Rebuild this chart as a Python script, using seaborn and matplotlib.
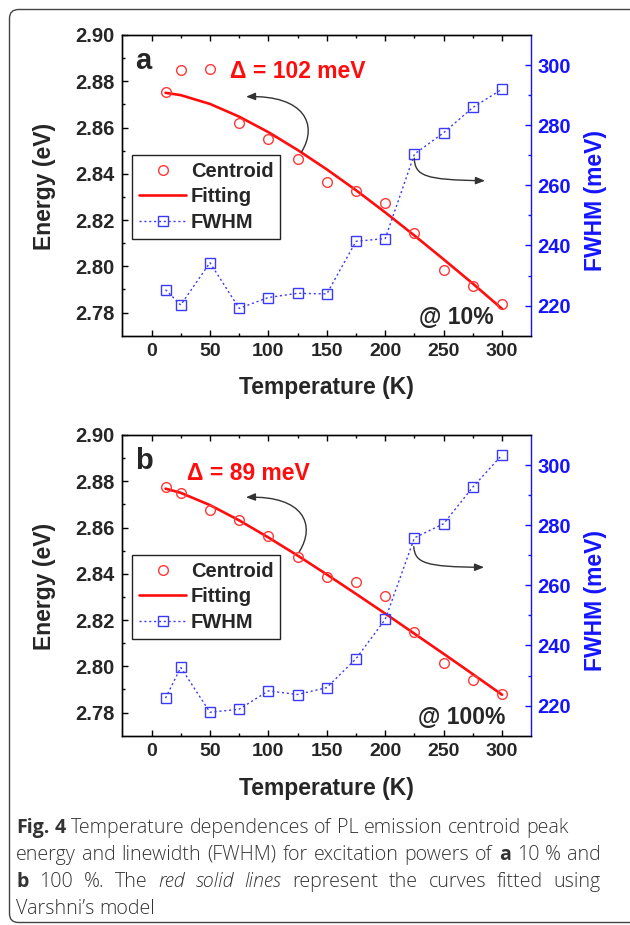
import numpy as np
import matplotlib
matplotlib.use("Agg")
import matplotlib.pyplot as plt
import seaborn as sns
from matplotlib.patches import FancyBboxPatch, FancyArrowPatch
from matplotlib.path import Path
from matplotlib.transforms import IdentityTransform

# ---------------------------------------------------------------- data
temperature = [12, 25, 50, 75, 100, 125, 150, 175, 200, 225, 250, 275, 300]

centroid_10 = [2.8754, 2.8848, 2.8851, 2.8620, 2.8551, 2.8462, 2.8365,
               2.8325, 2.8275, 2.8145, 2.7983, 2.7913, 2.7839]
fit_10 = [2.8750, 2.8740, 2.8702, 2.8647, 2.8580, 2.8503, 2.8419,
          2.8329, 2.8233, 2.8133, 2.8030, 2.7925, 2.7816]
fwhm_10 = [225.3, 220.2, 234.3, 219.1, 222.7, 224.1, 223.9,
           241.4, 242.3, 270.4, 277.5, 285.9, 292.0]

centroid_100 = [2.8775, 2.8749, 2.8675, 2.8632, 2.8564, 2.8471, 2.8385,
                2.8363, 2.8303, 2.8147, 2.8013, 2.7939, 2.7882]
fit_100 = [2.8768, 2.8750, 2.8697, 2.8631, 2.8557, 2.8479, 2.8397,
           2.8313, 2.8228, 2.8141, 2.8054, 2.7966, 2.7877]
fwhm_100 = [222.5, 232.7, 217.8, 218.8, 224.9, 223.7, 226.0,
            235.6, 248.7, 275.8, 280.5, 292.7, 303.4]

temp_ticks = [0, 50, 100, 150, 200, 250, 300]
temp_minor = [25, 75, 125, 175, 225, 275]
energy_ticks = [2.78, 2.80, 2.82, 2.84, 2.86, 2.88, 2.90]
energy_minor = [2.79, 2.81, 2.83, 2.85, 2.87, 2.89]
fwhm_ticks = [220, 240, 260, 280, 300]
fwhm_minor = [230, 250, 270, 290]

panel_letters = ["a", "b"]
delta_labels = ["\u0394 = 102 meV", "\u0394 = 89 meV"]
power_labels = ["@ 10%", "@ 100%"]
legend_labels = ["Centroid", "Fitting", "FWHM"]

# ---------------------------------------------------------------- style
sns.set_style("ticks")
plt.rcParams["font.family"] = ["Liberation Sans", "DejaVu Sans"]
plt.rcParams["font.weight"] = "bold"
plt.rcParams["axes.linewidth"] = 1.0

RED_LINE = "#ff0d0d"
RED_MARK = "#ff3838"
BLUE = "#1414ff"
BLUE_MARK = "#3a3aff"
ARROW = "#333333"

FIG_W, FIG_H = 630, 925
fig = plt.figure(figsize=(FIG_W / 100, FIG_H / 100), dpi=100)
fig.patch.set_facecolor("white")


def px_rect(left, top, right, bottom):
    return [left / FIG_W, 1 - bottom / FIG_H, (right - left) / FIG_W, (bottom - top) / FIG_H]


def fpt(x, y):
    return (x / FIG_W, 1 - y / FIG_H)


def curved_arrow(points):
    verts = [fpt(x, y) for x, y in points]
    codes = [Path.MOVETO, Path.CURVE4, Path.CURVE4, Path.CURVE4]
    arr = FancyArrowPatch(path=Path(verts, codes), transform=fig.transFigure,
                          arrowstyle="-|>,head_length=0.55,head_width=0.22",
                          mutation_scale=10, lw=1.0, color=ARROW)
    fig.add_artist(arr)


panels = [
    dict(centroid=centroid_10, fit=fit_10, fwhm=fwhm_10, dy=0,
         delta_x=229.8, delta_base=78.3, power_x=419.3, power_base=323.5,
         arrows=[[(301.7, 151.7), (318, 125), (305, 95), (246, 96.7)],
                 [(414.3, 158.3), (415, 176), (425, 180), (485, 180.7)]]),
    dict(centroid=centroid_100, fit=fit_100, fwhm=fwhm_100, dy=400,
         delta_x=186.8, delta_base=480.0, power_x=417.8, power_base=723.5,
         arrows=[[(299.3, 551.7), (316, 525), (304, 495.5), (245.9, 497.3)],
                 [(413.8, 546.7), (415, 563), (425, 567), (484.1, 567.3)]]),
]

for i, p in enumerate(panels):
    dy = p["dy"]
    ax = fig.add_axes(px_rect(122.3, 35 + dy, 531.3, 335.7 + dy))
    ax2 = ax.twinx()

    sns.lineplot(x=temperature, y=p["fit"], ax=ax, color=RED_LINE, lw=1.9)
    sns.lineplot(x=temperature, y=p["centroid"], ax=ax, linestyle="",
                 marker="o", ms=7, mfc="none", mec=RED_MARK, mew=1.0, color=RED_MARK)
    sns.lineplot(x=temperature, y=p["fwhm"], ax=ax2, color=BLUE_MARK, lw=1.0,
                 linestyle=(0, (1.5, 2.0)), marker="s", ms=7, mfc="none",
                 mec=BLUE_MARK, mew=1.0)
    fit_line, cen_line = ax.lines[0], ax.lines[1]
    fwhm_line = ax2.lines[0]

    ax.set_xlim(-25, 325)
    ax.set_ylim(2.77, 2.90)
    ax2.set_ylim(210, 310)

    ax.set_xticks(temp_ticks)
    ax.set_xticklabels([str(t) for t in temp_ticks])
    ax.set_xticks(temp_minor, minor=True)
    ax.set_yticks(energy_ticks)
    ax.set_yticklabels([f"{v:.2f}" for v in energy_ticks])
    ax.set_yticks(energy_minor, minor=True)
    ax2.set_yticks(fwhm_ticks)
    ax2.set_yticklabels([str(v) for v in fwhm_ticks])
    ax2.set_yticks(fwhm_minor, minor=True)

    ax.tick_params(axis="both", which="both", direction="in", top=True,
                   right=False, width=1.0, color="black")
    ax.tick_params(axis="both", which="major", length=4)
    ax.tick_params(axis="both", which="minor", length=2.5)
    ax.tick_params(axis="y", labelsize=14.5, pad=5.5)
    ax.tick_params(axis="x", labelsize=14, pad=5.5)
    ax2.tick_params(axis="y", which="both", direction="in", color=BLUE,
                    labelcolor=BLUE, labelsize=14.5, width=1.0, pad=4.5)
    ax2.tick_params(axis="y", which="major", length=4)
    ax2.tick_params(axis="y", which="minor", length=2.5)

    ax.spines["right"].set_visible(False)
    ax2.spines["right"].set_color(BLUE)
    for s in ("left", "top", "bottom"):
        ax2.spines[s].set_color("black")

    for a in (ax, ax2):
        a.set_xlabel("")
        a.set_ylabel("")
        if a.get_legend() is not None:
            a.get_legend().remove()

    leg = ax2.legend([cen_line, fit_line, fwhm_line], legend_labels,
                     loc="upper left", bbox_to_anchor=(0.0245, 0.601),
                     borderaxespad=0, frameon=True, fancybox=False,
                     edgecolor="#222222", framealpha=1, handlelength=2.3,
                     handletextpad=0.25, borderpad=0.35, labelspacing=0.32,
                     prop=dict(size=14.5, weight="bold"))
    leg.get_frame().set_linewidth(1.0)

    # axis titles
    fig.text(*fpt(44, 186.7 + dy), "Energy (eV)", rotation=90, ha="center",
             va="center", fontsize=16.5, fontweight="bold")
    fig.text(*fpt(595.4, 200.8 + dy), "FWHM (meV)", rotation=90, ha="center",
             va="center", fontsize=16.5, fontweight="bold", color=BLUE)
    fig.text(*fpt(326.4, 388 + dy), "Temperature (K)", ha="center",
             va="center", fontsize=16.5, fontweight="bold")

    # in-plot annotations
    fig.text(*fpt(135.5, 69 + dy), panel_letters[i], ha="left", va="baseline",
             fontsize=21, fontweight="bold")
    fig.text(*fpt(p["delta_x"], p["delta_base"]), delta_labels[i], ha="left",
             va="baseline", fontsize=16.5, fontweight="bold", color=RED_LINE)
    fig.text(*fpt(p["power_x"], p["power_base"]), power_labels[i], ha="left",
             va="baseline", fontsize=16.5, fontweight="bold")
    for pts in p["arrows"]:
        curved_arrow(pts)

# ---------------------------------------------------------------- caption
CAP_FAMILY = ["Open Sans", "DejaVu Sans"]
STYLES = {"n": dict(fontweight="light", fontstyle="normal"),
          "b": dict(fontweight="bold", fontstyle="normal"),
          "i": dict(fontweight="light", fontstyle="italic")}
renderer = fig.canvas.get_renderer()


def text_width(s, size, style):
    t = fig.text(0, 0, s, fontsize=size, family=CAP_FAMILY, **STYLES[style])
    w = t.get_window_extent(renderer).width
    t.remove()
    return w


caption_lines = [
    [("Fig. 4", "b"), ("Temperature dependences of PL emission centroid peak", "n")],
    [("energy and linewidth (FWHM) for excitation powers of", "n"), ("a", "b"),
     ("10 % and", "n")],
    [("b", "b"), ("100 %. The", "n"), ("red solid lines", "i"),
     ("represent the curves fitted using", "n")],
    [("Varshni\u2019s model", "n")],
]
caption_base = [833, 860, 887, 913.5]
caption_justify = [None, 601, 601, None]


def split_words(runs):
    return [(w, st) for txt, st in runs for w in txt.split()]


def natural_width(runs, size):
    words = split_words(runs)
    sp = text_width("x x", size, "n") - text_width("xx", size, "n")
    return sum(text_width(w, size, st) for w, st in words) + sp * (len(words) - 1)


base_size = 12.0
cap_size = base_size * (568.5 - 16) / natural_width(caption_lines[0], base_size)

for runs, yb, just in zip(caption_lines, caption_base, caption_justify):
    words = split_words(runs)
    widths = [text_width(w, cap_size, st) for w, st in words]
    gap = text_width("x x", cap_size, "n") - text_width("xx", cap_size, "n")
    if just is not None and len(words) > 1:
        gap = (just - 16 - sum(widths)) / (len(words) - 1)
    x = 16.0
    for (w, st), wd in zip(words, widths):
        fig.text(*fpt(x, yb), w, ha="left", va="baseline", fontsize=cap_size,
                 family=CAP_FAMILY, color="#333333", **STYLES[st])
        x += wd + gap

# rounded frame around the whole figure
frame = FancyBboxPatch((9.5, FIG_H - 922.5), 640, 913,
                       boxstyle="round,pad=0,rounding_size=9",
                       transform=IdentityTransform(), fill=False,
                       edgecolor="#444444", lw=1.0)
fig.add_artist(frame)

fig.savefig("out.png", dpi=100, facecolor="white")
